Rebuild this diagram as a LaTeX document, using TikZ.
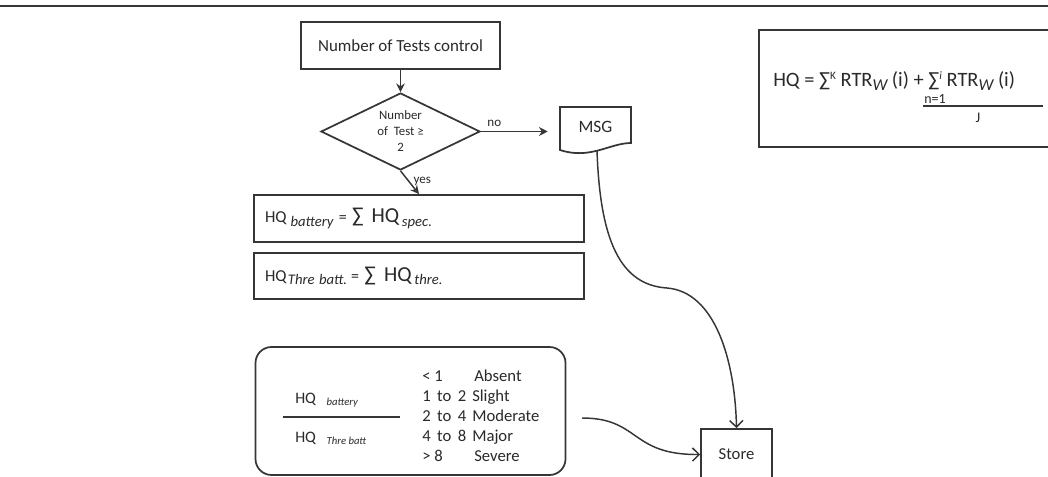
\documentclass[tikz,border=0pt]{standalone}
\usepackage{fontspec}
\setmainfont{Carlito}
\usetikzlibrary{shapes.geometric,arrows.meta}
\definecolor{ln}{HTML}{363636}
\definecolor{tx}{HTML}{2A2A2A}
\newcommand{\myfs}[1]{\fontsize{#1}{#1}\selectfont}
\begin{document}
\begin{tikzpicture}[x=0.75pt,y=-0.75pt,
  every node/.style={text=tx},
  box/.style={draw=ln, line width=1.3pt, rectangle, inner sep=0pt},
  con/.style={draw=ln, line width=1.1pt, -{Stealth[length=6.5pt,width=6.5pt]}},
  barb/.style={draw=ln, line width=1.1pt, -{Straight Barb[length=5pt,width=10pt,line width=1.1pt]}},
]
\useasboundingbox (0,0) rectangle (1048,477);
\clip (0,0) rectangle (1048,477);
\fill[white] (0,0) rectangle (1048,477);
\draw[ln, line width=1.8pt] (0,6) -- (1048,6);

% flow
\node[box, minimum width=149.25pt, minimum height=35.25pt, font=\myfs{12.7}] (ctrl) at (400.5,45.5) {Number of Tests control};
\node[diamond, draw=ln, line width=1.3pt, aspect=2.06, minimum width=119.25pt, minimum height=57.75pt, inner sep=0pt, align=center, font=\fontsize{9.6}{12}\selectfont] (dec) at (400.5,131.5) {Number\\of~ Test ≥\\2};

\node[minimum width=53.25pt, minimum height=30pt, inner sep=0pt, font=\myfs{13}] (msg) at (595.5,127) {MSG};
\draw[ln, line width=1.3pt] (560,107) -- (631,107) -- (631,143) .. controls (610,143) and (590,160) .. (560,150) -- cycle;
\coordinate (msgb) at (597,150.5);

\node[box, minimum width=247.5pt, minimum height=35.25pt, text width=231pt, inner xsep=8.25pt, align=left] (hqb) at (419,218.5)
 {{\myfs{12.5}HQ}\hspace{3pt}\raisebox{-2.5pt}{\myfs{11}\itshape battery}\hspace{4pt}{\myfs{12}=}\hspace{4pt}{\myfs{16}∑\hspace{6pt}HQ}\hspace{2pt}\raisebox{-2.5pt}{\myfs{11}\itshape spec.}};
\node[box, minimum width=247.5pt, minimum height=34.5pt, text width=231pt, inner xsep=8.25pt, align=left] (hqt) at (419,276)
 {{\myfs{12.5}HQ}\hspace{1pt}\raisebox{-2.5pt}{\myfs{11}\itshape Thre batt.}\hspace{3pt}{\myfs{12}=}\hspace{4pt}{\myfs{16}∑\hspace{6pt}HQ}\hspace{2pt}\raisebox{-2.5pt}{\myfs{11}\itshape thre.}};

% legend
\node[draw=ln, line width=1.3pt, rounded corners=12pt, minimum width=232.5pt, minimum height=96pt, inner sep=0pt] (leg) at (410.5,411) {};
\node[anchor=west, inner sep=0pt, font=\myfs{12}] (num) at (295,400) {HQ\hspace{8pt}\raisebox{-1.5pt}{\myfs{8}\itshape battery}};
\draw[ln, line width=1.1pt] (283,417) -- (400,417);
\node[anchor=west, inner sep=0pt, font=\myfs{12}] (den) at (295,438) {HQ\hspace{8pt}\raisebox{-1.5pt}{\myfs{8}\itshape Thre batt}};
\node[anchor=west, inner sep=0pt, align=left, font=\fontsize{12.5}{15}\selectfont] (tab) at (422,415.5)
 {\makebox[39pt][l]{< 1}Absent\\
  \makebox[37.5pt][l]{\makebox[33pt][s]{1 to 2}}Slight\\
  \makebox[37.5pt][l]{\makebox[33pt][s]{2 to 4}}Moderate\\
  \makebox[37.5pt][l]{\makebox[33pt][s]{4 to 8}}Major\\
  \makebox[39pt][l]{> 8}Severe};

\node[box, minimum width=53.25pt, minimum height=38.25pt, font=\myfs{12.5}] (store) at (736.5,454.5) {Store};

% formula
\node[box, minimum width=225.75pt, minimum height=87.75pt] (fbox) at (909.5,88.5) {};
\node[anchor=west, inner sep=0pt, font=\myfs{15.3}] (ftxt) at (773,81)
 {HQ = ∑\raisebox{5pt}{\myfs{8.5}K} RTR\raisebox{-3pt}{\myfs{12.5}\itshape W} (i) + ∑\raisebox{5pt}{\myfs{8.5}\itshape i} RTR\raisebox{-3pt}{\myfs{12.5}\itshape W} (i)};
\node[inner sep=0pt, font=\myfs{10.5}] (nidx) at (935,99) {n=1};
\draw[ln, line width=1.3pt] (923,106) -- (1043,106);
\node[inner sep=0pt, font=\myfs{11}] (jden) at (978,118) {J};

% connectors
\draw[con] (ctrl) -- (dec);
\draw[con, shorten >=9pt] (dec.east) -- (dec.east -| msg.west) node[pos=0.17, above, inner sep=3pt, font=\myfs{9.8}] (lno) {no};
\draw[con] (dec.south) -- (hqb.north) node[pos=0.45, right, inner sep=3pt, font=\myfs{9.8}] (lyes) {yes};
\draw[barb] (msgb) .. controls (600,240) and (620,285) .. (667,288) .. controls (715,292) and (735,360) .. (store.north);
\coordinate (legs) at (582,418);
\draw[barb] (legs) .. controls (640,418) and (630,455) .. (store.west);
\end{tikzpicture}
\end{document}
